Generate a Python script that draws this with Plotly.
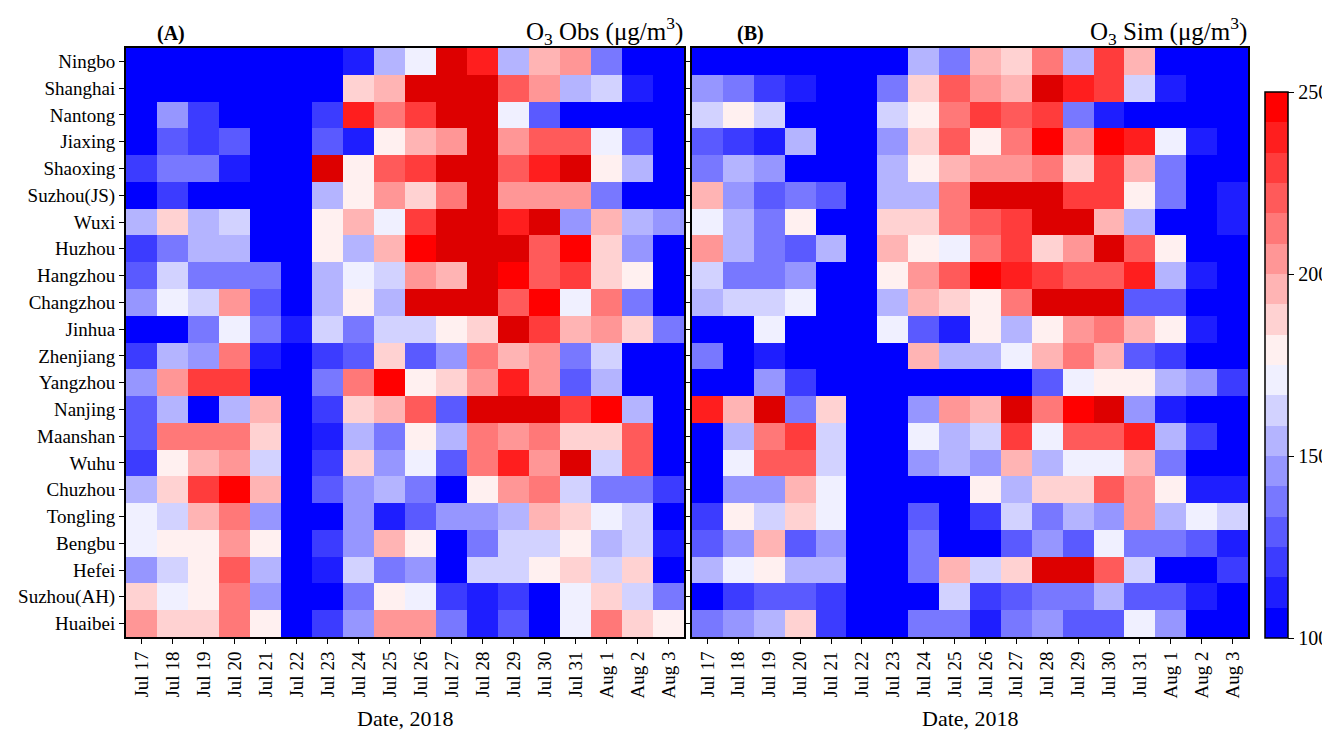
import numpy as np
import plotly.graph_objects as go

# The page body has an 8 px margin, so the figure is drawn 8 px smaller and
# every target pixel position is shifted by that offset.
OFF = 8
W, H = 1330 - OFF, 730 - OFF
FONT = "Liberation Serif"

dates = ["Jul 17", "Jul 18", "Jul 19", "Jul 20", "Jul 21", "Jul 22", "Jul 23", "Jul 24",
         "Jul 25", "Jul 26", "Jul 27", "Jul 28", "Jul 29", "Jul 30", "Jul 31",
         "Aug 1", "Aug 2", "Aug 3"]

cities = ["Ningbo", "Shanghai", "Nantong", "Jiaxing", "Shaoxing", "Suzhou(JS)", "Wuxi",
          "Huzhou", "Hangzhou", "Changzhou", "Jinhua", "Zhenjiang", "Yangzhou", "Nanjing",
          "Maanshan", "Wuhu", "Chuzhou", "Tongling", "Bengbu", "Hefei", "Suzhou(AH)", "Huaibei"]

# ---- Observed O3 (ug/m3) ----
obs_ningbo     = [95,95,95,95,95,95,95,112,154,171,262,237,154,196,204,137,95,95]
obs_shanghai   = [95,95,95,95,95,95,95,187,196,262,262,262,221,204,154,162,112,95]
obs_nantong    = [95,146,121,95,95,95,121,237,212,229,262,262,171,129,95,95,95,95]
obs_jiaxing    = [95,129,121,129,95,95,129,112,179,196,204,262,204,221,221,171,129,95]
obs_shaoxing   = [121,137,137,112,95,95,262,179,221,229,262,262,221,237,262,179,154,95]
obs_suzhou_js  = [95,121,95,95,95,95,154,179,204,187,212,262,204,204,204,137,95,95]
obs_wuxi       = [154,187,154,162,95,95,179,196,171,229,262,262,237,262,146,196,154,146]
obs_huzhou     = [121,137,154,154,95,95,179,154,196,246,262,262,262,221,246,187,146,95]
obs_hangzhou   = [129,162,137,137,137,95,154,171,162,204,196,262,246,221,229,187,179,95]
obs_changzhou  = [146,171,162,204,129,95,154,179,154,262,262,262,221,246,171,212,137,95]
obs_jinhua     = [95,95,137,171,137,112,162,137,162,162,179,187,262,229,196,204,187,137]
obs_zhenjiang  = [121,154,146,212,112,95,121,129,187,129,146,212,196,204,137,162,95,95]
obs_yangzhou   = [146,204,229,229,95,95,137,212,246,179,187,204,237,204,129,154,95,95]
obs_nanjing    = [129,154,95,154,196,95,121,187,196,221,129,262,262,262,229,246,154,95]
obs_maanshan   = [129,212,212,212,187,95,112,154,137,179,154,212,204,212,187,187,221,95]
obs_wuhu       = [121,179,196,204,162,95,121,187,146,171,129,212,237,204,262,162,221,95]
obs_chuzhou    = [154,187,229,246,196,95,129,146,154,137,95,179,204,212,162,137,137,121]
obs_tongling   = [171,162,196,212,146,95,95,146,112,129,146,146,154,196,187,171,162,95]
obs_bengbu     = [171,179,179,204,179,95,121,146,196,179,95,137,162,162,179,154,162,112]
obs_hefei      = [146,162,179,221,154,95,112,162,137,146,95,162,162,179,187,162,187,95]
obs_suzhou_ah  = [187,171,179,212,146,95,95,137,179,171,121,112,121,95,171,187,162,137]
obs_huaibei    = [204,187,187,212,179,95,121,146,204,204,137,112,129,95,171,212,187,179]

# ---- Simulated O3 (ug/m3) ----
sim_ningbo     = [95,95,95,95,95,95,95,154,137,196,187,212,154,229,196,95,95,95]
sim_shanghai   = [146,137,121,112,95,95,137,187,221,204,196,262,237,229,162,112,95,95]
sim_nantong    = [162,179,162,95,95,95,162,179,212,229,221,229,137,112,95,95,95,95]
sim_jiaxing    = [129,121,112,154,95,95,146,187,221,179,212,246,204,246,237,171,112,95]
sim_shaoxing   = [137,154,146,95,95,95,154,179,196,204,204,212,187,229,196,137,95,95]
sim_suzhou_js  = [196,146,129,137,129,95,154,154,212,262,262,262,229,229,179,137,95,112]
sim_wuxi       = [171,154,137,179,95,95,187,187,212,221,229,262,262,196,154,95,95,112]
sim_huzhou     = [204,154,137,129,154,95,196,179,171,212,229,187,204,262,221,179,95,95]
sim_hangzhou   = [162,137,137,146,95,95,179,204,221,246,237,229,221,221,237,154,112,95]
sim_changzhou  = [154,162,162,171,95,95,154,196,187,179,212,262,262,262,129,129,95,95]
sim_jinhua     = [95,95,171,95,95,95,171,129,112,179,154,179,204,212,196,179,112,95]
sim_zhenjiang  = [137,95,112,95,95,95,95,196,154,154,171,196,212,196,129,121,95,95]
sim_yangzhou   = [95,95,146,121,95,95,95,95,95,95,95,129,171,179,179,154,146,121]
sim_nanjing    = [237,196,262,137,187,95,95,146,204,196,262,212,246,262,146,112,95,95]
sim_maanshan   = [95,154,212,229,162,95,95,171,154,162,229,171,221,221,237,154,121,95]
sim_wuhu       = [95,171,221,221,162,95,95,146,154,146,196,154,171,171,196,137,95,95]
sim_chuzhou    = [95,146,146,196,171,95,95,95,95,179,154,187,187,221,204,179,112,112]
sim_tongling   = [121,179,162,187,171,95,95,129,95,121,162,137,154,146,204,154,171,162]
sim_bengbu     = [129,146,196,129,146,95,95,137,95,95,129,146,129,171,137,137,129,112]
sim_hefei      = [154,171,179,154,154,95,95,137,196,162,187,262,262,221,162,95,95,121]
sim_suzhou_ah  = [95,121,129,129,121,95,95,95,162,121,129,137,137,154,129,129,112,95]
sim_huaibei    = [137,146,154,187,121,95,95,137,137,112,137,146,129,129,171,146,95,95]

obs = np.array([obs_ningbo, obs_shanghai, obs_nantong, obs_jiaxing, obs_shaoxing, obs_suzhou_js,
                obs_wuxi, obs_huzhou, obs_hangzhou, obs_changzhou, obs_jinhua, obs_zhenjiang,
                obs_yangzhou, obs_nanjing, obs_maanshan, obs_wuhu, obs_chuzhou, obs_tongling,
                obs_bengbu, obs_hefei, obs_suzhou_ah, obs_huaibei], dtype=float)
sim = np.array([sim_ningbo, sim_shanghai, sim_nantong, sim_jiaxing, sim_shaoxing, sim_suzhou_js,
                sim_wuxi, sim_huzhou, sim_hangzhou, sim_changzhou, sim_jinhua, sim_zhenjiang,
                sim_yangzhou, sim_nanjing, sim_maanshan, sim_wuhu, sim_chuzhou, sim_tongling,
                sim_bengbu, sim_hefei, sim_suzhou_ah, sim_huaibei], dtype=float)

# ---- discrete bwr colour scale: 18 levels between 100 and 250 ----
ZMIN, ZMAX, NB = 100, 250, 18
OVER_COLOR = "#dd0000"


def bwr(t):
    if t <= 0.5:
        v = round(255 * 2 * t)
        return f"rgb({v},{v},255)"
    v = round(255 * (2 - 2 * t))
    return f"rgb(255,{v},{v})"


cs = []
for i in range(NB):
    c = bwr(i / (NB - 1))
    cs.append([i / NB, c])
    cs.append([(i + 1) / NB, c])


def px_x(p):
    return (p - OFF) / W


def px_y(p):
    return 1 - (p - OFF) / H


fig = go.Figure()

for z, xa, ya in [(obs, "x", "y"), (sim, "x2", "y2")]:
    fig.add_trace(go.Heatmap(z=z, x=dates, y=cities, coloraxis="coloraxis",
                             xaxis=xa, yaxis=ya, xgap=0, ygap=0))
    over = np.where(z > ZMAX, z, np.nan)
    over_list = [[None if np.isnan(v) else v for v in row] for row in over]
    fig.add_trace(go.Heatmap(z=over_list, x=dates, y=cities, xaxis=xa, yaxis=ya,
                             colorscale=[[0, OVER_COLOR], [1, OVER_COLOR]],
                             showscale=False, hoverongaps=False))

tick_font = dict(family=FONT, size=19, color="black")

common_x = dict(showline=True, linecolor="black", linewidth=2, mirror=True,
                ticks="outside", ticklen=5, tickwidth=1, tickcolor="black",
                tickangle=-90, tickfont=tick_font, showgrid=False, zeroline=False,
                categoryorder="array", categoryarray=dates)
common_y = dict(showline=True, linecolor="black", linewidth=2, mirror=True,
                ticks="outside", ticklen=5, tickwidth=1, tickcolor="black",
                tickfont=dict(family=FONT, size=19, color="black"),
                showgrid=False, zeroline=False, autorange="reversed",
                categoryorder="array", categoryarray=cities)

y_dom = [px_y(637), px_y(48)]

fig.update_layout(
    width=W, height=H,
    margin=dict(l=0, r=0, t=0, b=0),
    paper_bgcolor="white", plot_bgcolor="white",
    font=dict(family=FONT, color="black"),
    xaxis=dict(domain=[px_x(126), px_x(684)], anchor="y", **common_x),
    yaxis=dict(domain=y_dom, anchor="x", **common_y),
    xaxis2=dict(domain=[px_x(692), px_x(1248)], anchor="y2", **common_x),
    yaxis2=dict(domain=y_dom, anchor="x2", showticklabels=False, **common_y),
    coloraxis=dict(
        cmin=ZMIN, cmax=ZMAX, colorscale=cs,
        colorbar=dict(
            x=px_x(1265), xanchor="left", y=px_y(92), yanchor="top",
            len=(638 - 92) / H, lenmode="fraction",
            thickness=23, thicknessmode="pixels",
            outlinewidth=1.5, outlinecolor="black",
            ticks="outside", ticklen=6, tickwidth=1, tickcolor="black",
            tickvals=[100, 150, 200, 250],
            tickfont=dict(family=FONT, size=20, color="black"),
            xpad=0, ypad=0,
        ),
    ),
    showlegend=False,
)

annos = [
    dict(x=px_x(155), y=px_y(34), text="<b>(A)</b>", xanchor="left", yanchor="middle",
         font=dict(family=FONT, size=20)),
    dict(x=px_x(735), y=px_y(34), text="<b>(B)</b>", xanchor="left", yanchor="middle",
         font=dict(family=FONT, size=20)),
    dict(x=px_x(685), y=px_y(31), text="O<sub>3</sub> Obs (μg/m<sup>3</sup>)",
         xanchor="right", yanchor="middle", font=dict(family=FONT, size=25)),
    dict(x=px_x(1249), y=px_y(31), text="O<sub>3</sub> Sim (μg/m<sup>3</sup>)",
         xanchor="right", yanchor="middle", font=dict(family=FONT, size=25)),
    dict(x=px_x((126 + 684) / 2), y=px_y(718), text="Date, 2018",
         xanchor="center", yanchor="middle", font=dict(family=FONT, size=22)),
    dict(x=px_x((692 + 1248) / 2), y=px_y(718), text="Date, 2018",
         xanchor="center", yanchor="middle", font=dict(family=FONT, size=22)),
]
for a in annos:
    a.update(xref="paper", yref="paper", showarrow=False)
fig.update_layout(annotations=annos)

fig.write_html("out.html")
